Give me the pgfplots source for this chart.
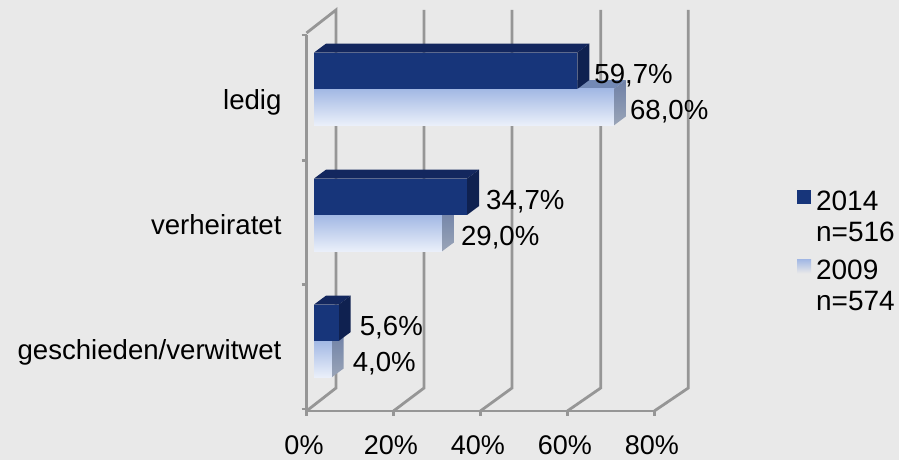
\documentclass[border=0pt]{standalone}
\usepackage{fontspec}
\setmainfont{Liberation Sans}
\usepackage{pgfplots}
\pgfplotsset{compat=1.18}
\definecolor{bg}{HTML}{E9E9E9}
\definecolor{wall}{HTML}{969696}
\definecolor{navy}{HTML}{17357A}
\definecolor{navytop}{HTML}{13275E}
\definecolor{navyside}{HTML}{0F2150}
\definecolor{lighttop}{HTML}{A2B8E4}
\definecolor{lightbot}{HTML}{EBF0FA}
\definecolor{pale}{HTML}{7389B5}
\definecolor{sidetop}{HTML}{6E80A6}
\definecolor{sidebot}{HTML}{9AA5B8}
\newcommand\lbl{\fontsize{27}{31}\selectfont}
\newcommand\catlbl{\fontsize{27.6}{31}\selectfont}
\newcommand\leglbl{\fontsize{28}{31}\selectfont}
\begin{document}
\begin{tikzpicture}
\fill[bg] (0,0) rectangle (899pt,460pt);
\path[use as bounding box] (0,0) rectangle (899pt,460pt);
% walls, ticks, labels, legend
\begin{axis}[
  at={(306.5pt,49pt)}, anchor=south west,
  scale only axis, width=347.8pt, height=376pt,
  xmin=0, xmax=80, ymin=0, ymax=3,
  clip=false,
  axis x line=bottom, axis y line=left,
  axis line style={wall, line width=2.8pt, -},
  xtick={0,20,40,60,80},
  xticklabels={0\%,20\%,40\%,60\%,80\%},
  ytick={0.5,1.5,2.5},
  yticklabels={\strut geschieden/verwitwet,\strut verheiratet,\strut ledig},
  minor ytick={0.016,1.01,2.0,3},
  tick align=outside,
  major tick length=5pt, minor tick length=5pt,
  major x tick style={wall, line width=2.8pt},
  major y tick style={draw=none},
  minor y tick style={wall, line width=2.8pt},
  tick label style={text=black},
  xticklabel style={font=\lbl, xshift=-2.5pt, yshift=-16pt},
  yticklabel style={font=\catlbl, xshift=-16.5pt, yshift=-5.4pt},
  legend style={at={(1.41,0.59)}, anchor=north west, draw=none, fill=none,
    font=\leglbl, inner sep=0pt, cells={align=left, anchor=west},
    row sep=13pt, column sep=3pt},
  legend image code/.code={\path[#1, draw=none] (0pt,13pt) rectangle (14pt,27pt);},
]
\addlegendimage{fill=navy}
\addlegendentry{2014\\n=516}
\addlegendimage{top color=lighttop, bottom color=bg}
\addlegendentry{2009\\n=574}
\addplot[wall, line width=2.8pt] coordinates {(0,3.016) (6.79,3.2) (6.79,0.1835) (0,0)};
\addplot[wall, line width=2.8pt] coordinates {(27.03,3.2) (27.03,0.1835) (20,0)};
\addplot[wall, line width=2.8pt] coordinates {(47.27,3.2) (47.27,0.1835) (40,0)};
\addplot[wall, line width=2.8pt] coordinates {(67.67,3.2) (67.67,0.1835) (60,0)};
\addplot[wall, line width=2.8pt] coordinates {(87.82,3.2) (87.82,0.1835) (80,0)};
\end{axis}
% bars with their depth faces
\begin{axis}[
  at={(314pt,56pt)}, anchor=south west,
  scale only axis, width=352.8pt, height=378pt,
  xmin=0, xmax=80, ymin=0, ymax=3,
  clip=false, hide axis,
  point meta=explicit symbolic,
  every node near coord/.append style={anchor=west, inner sep=0pt,
    font=\catlbl, text=black},
  light/.style={xbar, bar width=36.4pt, bar shift=-18.2pt, draw=none,
    top color=lighttop, bottom color=lightbot, nodes near coords,
    every node near coord/.append style={xshift=#1, yshift=-22.5pt}},
  dark/.style={xbar, bar width=36.4pt, bar shift=18.2pt, draw=none,
    fill=navy, nodes near coords,
    every node near coord/.append style={xshift=#1, yshift=13pt}},
]
% 2009
\addplot[fill=pale, draw=none] coordinates {(0,2.5) (68,2.5) (70.72,2.571) (2.72,2.571)} --cycle;
\addplot[fill=pale, draw=none] coordinates {(0,1.5) (29,1.5) (31.72,1.571) (2.72,1.571)} --cycle;
\addplot[fill=pale, draw=none] coordinates {(0,0.5) (4,0.5) (6.72,0.571) (2.72,0.571)} --cycle;
\addplot[top color=sidetop, bottom color=sidebot, draw=none] coordinates {(68,2.211) (68,2.5) (70.72,2.571) (70.72,2.282)} --cycle;
\addplot[top color=sidetop, bottom color=sidebot, draw=none] coordinates {(29,1.211) (29,1.5) (31.72,1.571) (31.72,1.282)} --cycle;
\addplot[top color=sidetop, bottom color=sidebot, draw=none] coordinates {(4,0.211) (4,0.5) (6.72,0.571) (6.72,0.282)} --cycle;
\addplot[light=16pt] coordinates {(68,2.5) [68,0\%]};
\addplot[light=19pt] coordinates {(29,1.5) [29,0\%]};
\addplot[light=21pt] coordinates {(4,0.5) [4,0\%]};
% 2014
\addplot[fill=navytop, draw=none] coordinates {(0,2.789) (59.7,2.789) (62.42,2.86) (2.72,2.86)} --cycle;
\addplot[fill=navytop, draw=none] coordinates {(0,1.789) (34.7,1.789) (37.42,1.86) (2.72,1.86)} --cycle;
\addplot[fill=navytop, draw=none] coordinates {(0,0.789) (5.6,0.789) (8.32,0.86) (2.72,0.86)} --cycle;
\addplot[fill=navyside, draw=none] coordinates {(59.7,2.5) (59.7,2.789) (62.42,2.86) (62.42,2.571)} --cycle;
\addplot[fill=navyside, draw=none] coordinates {(34.7,1.5) (34.7,1.789) (37.42,1.86) (37.42,1.571)} --cycle;
\addplot[fill=navyside, draw=none] coordinates {(5.6,0.5) (5.6,0.789) (8.32,0.86) (8.32,0.571)} --cycle;
\addplot[dark=17pt] coordinates {(59.7,2.5) [59,7\%]};
\addplot[dark=19pt] coordinates {(34.7,1.5) [34,7\%]};
\addplot[dark=21pt] coordinates {(5.6,0.5) [5,6\%]};
\end{axis}
\end{tikzpicture}
\end{document}
